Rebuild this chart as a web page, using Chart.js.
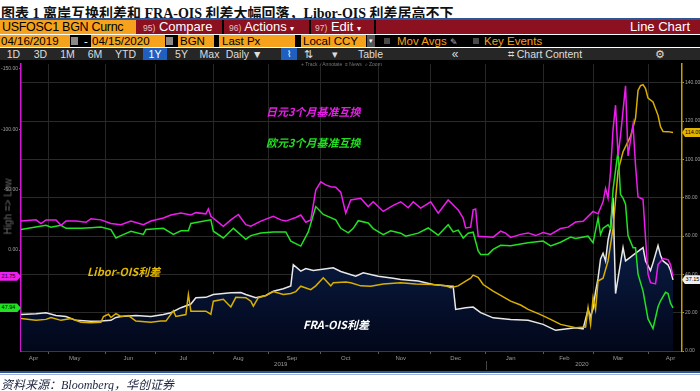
<!DOCTYPE html>
<html>
<head>
<meta charset="utf-8">
<script src="https://cdn.jsdelivr.net/npm/chart.js@4.4.1/dist/chart.umd.min.js"></script>
<style>
  body { margin:0; width:700px; height:391px; background:#fff; position:relative; overflow:hidden; font-family:"Liberation Sans", Arial, sans-serif; }
  .a { position:absolute; white-space:nowrap; }
  #title { left:1px; top:2px; font:bold 14px "Liberation Serif","Noto Sans CJK SC",serif; color:#111; }
  .bar1 { top:20px; height:14px; line-height:14px; font-size:13px; color:#fff; }
  .org { background:#f6a21c; color:#000; }
  .bar2 { top:35px; height:12px; line-height:12px; font-size:11.5px; }
  .bar3 { top:48px; height:12px; line-height:12px; font-size:10.5px; color:#ddd; text-align:center; background:#262626; }
  .sm { font-size:8.5px; color:#e8c0c0; }
  .chk { top:38px; width:6px; height:6px; background:#4a4a4a; }
  .note { font:italic bold 11px "Noto Sans CJK SC", sans-serif; }
  .tag { height:9px; line-height:9px; font-size:5.5px; color:#000; }
</style>
</head>
<body>
<div class="a" id="title">图表 1 离岸互换利差和 FRA-OIS 利差大幅回落，Libor-OIS 利差居高不下</div>
<div class="a" style="left:0;top:18px;width:700px;height:2px;background:#2d5596"></div>

<!-- Bloomberg header rows -->
<div class="a bar1" style="left:0;width:700px;background:#8b1020"></div>
<div class="a bar1 org" style="left:0;width:134px;padding-left:2px;font-size:12.5px;letter-spacing:-0.3px">USFOSC1 BGN Curnc</div>
<div class="a bar1" style="left:143px"><span class="sm">95)</span> Compare</div>
<div class="a bar1" style="left:222px;width:2px;background:#000"></div>
<div class="a bar1" style="left:229px"><span class="sm">96)</span> Actions <span style="font-size:8px">▾</span></div>
<div class="a bar1" style="left:309px;width:2px;background:#000"></div>
<div class="a bar1" style="left:315px"><span class="sm">97)</span> Edit <span style="font-size:8px">▾</span></div>
<div class="a bar1" style="left:374px;width:2px;background:#000"></div>
<div class="a bar1" style="right:10px">Line Chart</div>

<div class="a bar2" style="left:0;width:700px;background:#000"></div>
<div class="a bar2 org" style="left:0;width:69px;padding-left:1px">04/16/2019</div>
<div class="a" style="left:71px;top:37px;width:7px;height:8px;background:#8a8a8a"></div>
<div class="a bar2" style="left:84px;color:#fff">-</div>
<div class="a bar2 org" style="left:91px;width:73px;padding-left:1px">04/15/2020</div>
<div class="a" style="left:166px;top:37px;width:7px;height:8px;background:#8a8a8a"></div>
<div class="a bar2 org" style="left:178px;width:34px;padding-left:2px">BGN</div>
<div class="a bar2 org" style="left:219px;width:73px;padding-left:3px">Last Px</div>
<div class="a bar2 org" style="left:301px;width:63px;padding-left:2px">Local CCY</div>
<div class="a bar2" style="left:367px;width:8px;background:#555;color:#fff;font-size:7px;text-align:center">▾</div>
<div class="a chk" style="left:384px"></div>
<div class="a bar2" style="left:397px;color:#f6a21c">Mov Avgs <span style="color:#bbb;font-size:9px">✎</span></div>
<div class="a chk" style="left:473px"></div>
<div class="a bar2" style="left:484px;color:#f6a21c">Key Events</div>

<div class="a bar3" style="left:0;width:700px"></div>
<div class="a bar3" style="left:1px;width:25px">1D</div>
<div class="a bar3" style="left:28px;width:25px">3D</div>
<div class="a bar3" style="left:55px;width:25px">1M</div>
<div class="a bar3" style="left:82px;width:26px">6M</div>
<div class="a bar3" style="left:110px;width:31px">YTD</div>
<div class="a bar3" style="left:143px;width:24px;background:#1f5fbf;color:#fff">1Y</div>
<div class="a bar3" style="left:169px;width:25px">5Y</div>
<div class="a bar3" style="left:196px;width:27px">Max</div>
<div class="a bar3" style="left:225px;width:38px">Daily ▼</div>
<div class="a bar3" style="left:281px;width:16px;background:#1f5fbf;color:#fff;font-size:9px">⌇</div>
<div class="a bar3" style="left:299px;width:18px">⇅</div>
<div class="a bar3" style="left:325px;width:20px">▾</div>
<div class="a bar3" style="left:347px;width:47px">Table</div>
<div class="a bar3" style="left:440px;width:30px;font-size:12px">«</div>
<div class="a bar3" style="left:472px;width:146px">⌗ Chart Content</div>
<div class="a bar3" style="left:620px;width:80px">⚙</div>

<!-- chart -->
<div class="a" style="left:0;top:60px;width:700px;height:312px;background:#000">
  <canvas id="c"></canvas>
</div>
<div class="a" style="left:301px;top:61px;font-size:5px;color:#777">+ Track &nbsp;∕ Annotate &nbsp;≡ News &nbsp;⌕ Zoom</div>
<div class="a" style="left:-27px;top:201px;width:70px;text-align:center;font-size:10px;color:#6a6a6a;transform:rotate(-90deg)">High =&gt; Low</div>

<div class="a note" style="left:266px;top:103px;color:#e81ee8">日元3个月基准互换</div>
<div class="a note" style="left:266px;top:134px;color:#22dd22">欧元3个月基准互换</div>
<div class="a note" style="left:87px;top:263px;color:#e2b900">Libor-OIS利差</div>
<div class="a note" style="left:303px;top:316px;color:#fff">FRA-OIS利差</div>

<div class="a tag" id="tagJ" style="left:0;width:17px;padding-right:4px;text-align:center;background:#ee20ee;clip-path:polygon(0 0,17px 0,21px 50%,17px 100%,0 100%)"></div>
<div class="a tag" id="tagE" style="left:0;width:17px;padding-right:4px;text-align:center;background:#22e022;clip-path:polygon(0 0,17px 0,21px 50%,17px 100%,0 100%)"></div>
<div class="a tag" id="tagL" style="left:682px;width:15px;padding-left:3px;text-align:center;background:#e0b400;clip-path:polygon(3px 0,100% 0,100% 100%,3px 100%,0 50%)"></div>
<div class="a tag" id="tagF" style="left:682px;width:15px;padding-left:3px;text-align:center;background:#eee;clip-path:polygon(3px 0,100% 0,100% 100%,3px 100%,0 50%)"></div>
<div id="years"></div>

<div class="a" style="left:0;top:371px;width:700px;height:2px;background:#2d5596"></div>
<div class="a" style="left:0;top:374px;width:700px;height:1px;background:#9fb3d6"></div>
<div class="a" style="left:1px;top:375px;font:italic 12px 'Liberation Serif','Noto Sans CJK SC',serif;color:#1b2340">资料来源：Bloomberg，华创证券</div>

<script>
// x = business-day index from 04/16/2019 (0) to 04/15/2020 (261)
const monthStarts = [11, 34, 54, 77, 99, 120, 143, 164, 186, 209, 229, 251];
const monthLabelPos = [5, 21.5, 43, 65, 87, 108.5, 130, 152, 174, 196, 217.5, 239, 260];
const monthLabels = ['Apr', 'May', 'Jun', 'Jul', 'Aug', 'Sep', 'Oct', 'Nov', 'Dec', 'Jan', 'Feb', 'Mar', 'Apr'];
const yearLabelPos = [104, 224.5];
const yearLabels = ['2019', '2020'];
const leftTicks = [-150, -100, -50, 0];
const rightTicks = [0, 20, 40, 60, 80, 100, 120, 140];

// 日元3个月基准互换 (left axis, inverted)
const jpyDays = [0,6,8,10,14,16,18,22,26,28,32,36,40,44,49,52,57,60,64,68,70,74,75,76,81,84,87,90,92,96,101,104,106,110,112,114,116,118,120,122,124,126,128,130,132,136,139,141,145,149,152,155,157,160,164,167,171,175,177,178,180,181,182,183,189,192,194,196,200,203,206,209,212,216,219,222,225,229,231,233,234,235,236,237,238,239,240,242,243,245,246,247,249,250,251,252,254,255,257,259,260,261];
const jpyBasis = [-24,-25,-22,-25,-25,-20.5,-24,-24,-23,-26,-25,-22,-21,-24,-21,-24,-26.5,-29,-30.6,-29,-31,-30,-34,-28,-19.7,-25,-29.5,-21,-19.7,-24,-28,-25,-24,-27,-29,-23,-25,-49.7,-56.5,-54,-52.5,-52,-48,-30.6,-41.5,-42.9,-36,-40,-32,-37,-40,-35,-40,-34.7,-40,-30.6,-41.5,-33.3,-26.5,-18.3,-19,-33.3,-34,-11.5,-10.7,-15.6,-14,-10.5,-13,-14.2,-12,-14.5,-13,-17.8,-19,-23.2,-23.8,-32,-30,-40,-51,-43,-65,-100,-120,-78,-95,-136,-78,-104,-70,-44,-42,-10,20,27,28,12,7,8,12,21.75];

// 欧元3个月基准互换 (left axis, inverted)
const eurDays = [0,10,12,16,18,24,28,32,36,38,40,44,49,50,57,61,64,67,68,76,77,81,85,90,92,96,101,106,108,112,115,118,121,126,128,131,133,135,139,141,145,148,152,154,159,163,167,171,173,175,177,179,181,183,184,187,189,192,196,203,209,212,216,220,222,227,229,231,232,233,235,236,237,239,240,241,242,243,245,246,247,249,251,253,255,256,258,259,260,261];
const eurBasis = [-17,-20.5,-19,-20.5,-18,-18,-18.5,-19,-17,-10,-12,-15.6,-13,-17,-18,-13,-16,-16,-22,-25,-15.6,-10,-18,-9,-12,-14.2,-15,-15,-7.4,-3.3,-15,-36,-29.5,-25,-18,-14.2,-18,-24.3,-22.4,-17.8,-12.8,-16,-14,-11.5,-14,-18.3,-12.3,-21,-15,-16.5,-10,-14,-14.8,0.8,3.6,3.6,-0.5,-4,-3.5,-6,-7.4,-3.5,-6.5,-10.7,-9.5,-11.5,-6,-26.5,-13,-18,-21,-18,-50,-82,-46,-43,-38,-12,-2,-2,20,34,57,65,47,42,35,36,44,47.94];

// FRA-OIS利差 (right axis)
const fraDays = [0,6,10,14,18,22,28,32,36,38,40,46,52,57,60,64,68,70,74,77,81,84,88,90,94,98,101,105,108,109,112,114,117,120,125,128,134,137,143,149,152,159,165,172,173,174,178,181,184,189,196,203,209,214,222,225,227,228,229,230,231,232,233,234,235,236,237,238,239,241,242,244,245,247,249,250,252,253,255,256,257,259,260,261];
const fraOis = [19,19.5,20,18.5,18,16,15.5,15.6,16,17.5,18,18.5,18,19,20,22.6,24.5,27.8,28,29.5,30,30.4,30.5,29.5,27.8,29,31.2,32.5,34,45,41.7,43,42,42.5,43.4,41.5,39,40.8,39,38,37.3,36.5,34.7,33.8,33.8,21.7,22.6,22.9,20,17.3,16.5,16,13.9,10.8,12.1,11.5,21.7,18,22,31,38,48,51,47,58,64,80,30,38,54,47,49,50,52,54,47,42,46,55,50,47,45,42,37.15];

// Libor-OIS利差 (right axis)
const liborDays = [0,6,10,12,16,20,24,28,32,33,35,36,38,40,43,46,52,56,58,61,62,66,67,68,74,76,77,81,84,86,90,92,93,95,98,101,105,108,110,112,116,118,121,124,125,130,132,136,140,145,152,158,165,170,172,175,178,180,181,183,185,189,192,196,200,203,208,212,216,222,226,227,228,229,230,231,233,235,237,239,241,244,246,247,248,249,250,251,253,255,256,257,259,261];
const liborOis = [17,16,16.5,17.5,16,17,15,14.7,15,18,19.2,17.5,19.5,18,18.5,15.6,15,15.6,15.6,21,18,19,29.5,20.8,20.8,19.2,26,27,23,28,27.8,26,23.4,27.8,29,31,29.5,30,31,33.8,32,34,38.2,34,35.6,36,35.6,34,33.8,35,35.6,35,34.7,34,33,34,36.5,38,39.6,38.5,34.7,31.2,29,26,24,21.7,19,16.5,13.9,12.1,12.5,22.6,13.9,27.8,21.7,36.5,38,47,64,94,104,112,121.5,136,138.5,139,137,132,130,123,117,114.6,114.5,114.09];

const pts = (xs, ys) => xs.map((x, i) => ({ x: x, y: ys[i] }));

Chart.defaults.font.family = "'Liberation Sans', Arial, sans-serif";

const fraFill = (context) => {
  const area = context.chart.chartArea;
  if (!area) return '#0c2150';
  const g = context.chart.ctx.createLinearGradient(0, area.top, 0, area.bottom);
  g.addColorStop(0, '#1b3f82');
  g.addColorStop(0.45, '#0d2556');
  g.addColorStop(1, '#02071a');
  return g;
};

const chart = new Chart(document.getElementById('c'), {
  type: 'line',
  data: {
    datasets: [
      { label: '日元3个月基准互换', data: pts(jpyDays, jpyBasis), yAxisID: 'yL', borderColor: '#ee1cee', borderWidth: 1.5 },
      { label: '欧元3个月基准互换', data: pts(eurDays, eurBasis), yAxisID: 'yL', borderColor: '#22e022', borderWidth: 1.5 },
      { label: 'Libor-OIS利差', data: pts(liborDays, liborOis), yAxisID: 'yR', borderColor: '#d9b000', borderWidth: 1.5 },
      { label: 'FRA-OIS利差', data: pts(fraDays, fraOis), yAxisID: 'yR', borderColor: '#e8e8e8', borderWidth: 1.5,
        fill: 'origin', backgroundColor: fraFill }
    ]
  },
  options: {
    responsive: true,
    maintainAspectRatio: false,
    animation: false,
    layout: { padding: { top: 1 } },
    elements: { point: { radius: 0 }, line: { tension: 0 } },
    plugins: { legend: { display: false }, tooltip: { enabled: false } },
    scales: {
      x: {
        type: 'linear', min: 0, max: 264.6,
        afterBuildTicks: (s) => { s.ticks = monthStarts.concat(monthLabelPos).sort((a, b) => a - b).map(v => ({ value: v })); },
        afterFit: (s) => { s.height = 21; },
        ticks: {
          autoSkip: false, maxRotation: 0, padding: 1, color: '#9a9a9a', font: { size: 6 },
          callback: (v) => { const i = monthLabelPos.indexOf(v); return i < 0 ? '' : monthLabels[i]; }
        },
        grid: {
          color: (c) => monthStarts.includes(c.tick && c.tick.value) ? '#262626' : 'rgba(0,0,0,0)',
          tickColor: (c) => monthStarts.includes(c.tick && c.tick.value) ? '#5a5a5a' : 'rgba(0,0,0,0)',
          tickLength: 3
        },
        border: { color: '#3a3a3a' }
      },
      yL: {
        position: 'left', reverse: true, min: -154.1, max: 83.6,
        afterBuildTicks: (s) => { s.ticks = leftTicks.map(v => ({ value: v })); },
        afterFit: (s) => { s.width = 21; },
        ticks: { color: '#a0a0a0', font: { size: 5 }, padding: 1, callback: (v) => v.toFixed(2) },
        grid: { drawOnChartArea: false, tickColor: '#e020e0', tickLength: 2 },
        border: { color: '#d414d4', width: 1.5 }
      },
      yR: {
        position: 'right', min: 0, max: 149.8,
        afterBuildTicks: (s) => { s.ticks = rightTicks.map(v => ({ value: v })); },
        afterFit: (s) => { s.width = 18; },
        ticks: { color: '#a0a0a0', font: { size: 5 }, padding: 1, callback: (v) => v.toFixed(2) },
        grid: { color: '#2a2a2a', tickColor: '#c9a000', tickLength: 2 },
        border: { color: '#c9a000', width: 1.5 }
      }
    }
  }
});

// value tags and year labels positioned from the scales
const top0 = 60;
const setTag = (id, scale, v) => {
  const el = document.getElementById(id);
  el.textContent = v.toFixed(2);
  el.style.top = (top0 + chart.scales[scale].getPixelForValue(v) - 4.5) + 'px';
};
setTag('tagJ', 'yL', jpyBasis[jpyBasis.length - 1]);
setTag('tagE', 'yL', eurBasis[eurBasis.length - 1]);
setTag('tagL', 'yR', liborOis[liborOis.length - 1]);
setTag('tagF', 'yR', fraOis[fraOis.length - 1]);

const yrs = document.getElementById('years');
yearLabels.forEach((t, i) => {
  const d = document.createElement('div');
  d.className = 'a';
  d.style.cssText = 'top:361px;font-size:6px;color:#9a9a9a;width:30px;text-align:center;left:' + (chart.scales.x.getPixelForValue(yearLabelPos[i]) - 15) + 'px';
  d.textContent = t;
  yrs.appendChild(d);
});
const sep = document.createElement('div');
sep.className = 'a';
sep.style.cssText = 'top:361px;width:1px;height:9px;background:#444;left:' + Math.round(chart.scales.x.getPixelForValue(monthStarts[8])) + 'px';
yrs.appendChild(sep);
</script>
</body>
</html>
